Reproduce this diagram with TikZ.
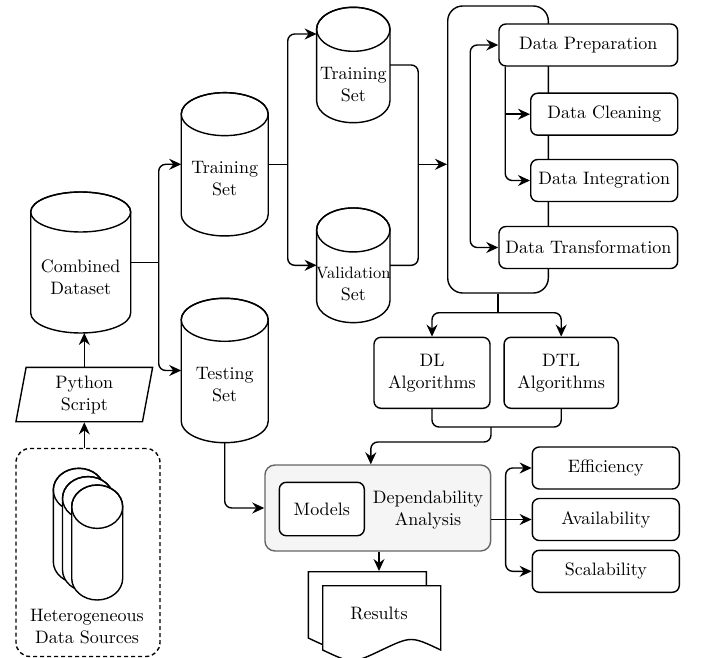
\documentclass[tikz,border=0pt]{standalone}
\usepackage{fontspec}
\setmainfont{lmroman10-regular.otf}
\usetikzlibrary{shapes,arrows.meta,positioning,calc}

\begin{document}
\begin{tikzpicture}[
    x=1pt, y=-1pt,
    font=\fontsize{18}{22}\selectfont,
    line width=1.4pt,
    >={Stealth[length=12pt,width=11pt,inset=4pt]},
    % vertical drum: x radius / y radius of the end ellipses
    cyl/.style args={#1/#2}{inner sep=0pt, outer sep=0pt, minimum width={2*#1pt}, append after command={\pgfextra{
        \draw[fill=white] ($(\tikzlastnode.north west)+(0,#2)$) -- ($(\tikzlastnode.south west)+(0,-#2)$)
            arc[start angle=180, end angle=360, x radius=#1pt, y radius=#2pt]
            -- ($(\tikzlastnode.north east)+(0,#2)$)
            arc[start angle=0, end angle=180, x radius=#1pt, y radius=#2pt];
        \draw ($(\tikzlastnode.north)+(0,#2)$) ellipse[x radius=#1pt, y radius=#2pt];}}},
    cyltext/.style={align=center, inner sep=0pt, yshift=-14.5pt},
    process/.style={rectangle, draw, fill=white, rounded corners=7pt, align=center, minimum height=42pt},
    arrow/.style={->, rounded corners=7pt},
    link/.style={-, rounded corners=7pt}
]
\useasboundingbox (0,0) rectangle (702,658);

% Sources and script
\node[draw, dash pattern=on 4pt off 3pt, rounded corners=14pt, minimum width=144pt, minimum height=208pt] (sources) at (88,552.5) {};
\foreach \i/\x/\y in {1/78.8/525.8, 2/88/534.1, 3/97.2/542.5}
    \node[cyl=25.5/21.7, minimum height=115pt] (src\i) at (\x,\y) {};
\node[align=center] (srctext) at (87,627) {Heterogeneous\\Data Sources};
\node[trapezium, trapezium left angle=75, trapezium right angle=105, trapezium stretches body, draw, fill=white, minimum width=136.7pt, minimum height=54.4pt, align=center, inner sep=0pt] (python) at (84.3,394.5) {Python\\Script};

% Datasets
\node[cyl=50/20, minimum height=141pt, label={[cyltext]center:{Combined\\Dataset}}] (combined) at (80.7,262.5) {};
\node[cyl=43.5/21.5, minimum height=143.3pt, label={[cyltext]center:{Training\\Set}}] (train) at (224.7,164.3) {};
\node[cyl=43.5/21.5, minimum height=144.4pt, label={[cyltext]center:{Testing\\Set}}] (test) at (224.7,370.5) {};
\node[cyl=36.7/22, minimum height=115.4pt, label={[cyltext, yshift=-5.5pt]center:{Training\\Set}}] (trainsub) at (353.3,65) {};
\node[cyl=36.7/22, minimum height=114.7pt, label={[cyltext, yshift=-4pt]center:{{\fontsize{16.5}{20}\selectfont Validation}\\Set}}] (valid) at (353.3,265.3) {};

% Data preparation block
\node[draw, rounded corners=15pt, minimum width=100.6pt, minimum height=287pt] (prep) at (498,149.5) {};
\node[process, minimum width=178.7pt] (dprep) at (588.3,45) {Data Preparation};
\node[process, minimum width=147pt] (dclean) at (604.2,114.2) {Data Cleaning};
\node[process, minimum width=147pt] (dinteg) at (604.2,180.5) {Data Integration};
\node[process, minimum width=178.7pt] (dtrans) at (588.3,247.5) {Data Transformation};

% Algorithms
\node[process, minimum width=116pt, minimum height=71pt] (dl) at (432,372.8) {DL\\Algorithms};
\node[process, minimum width=114.3pt, minimum height=71pt] (dtl) at (561.2,372.8) {DTL\\Algorithms};

% Analysis
\node[draw=black!60, fill=black!4, rounded corners=10pt, minimum width=225.7pt, minimum height=86pt] (dep) at (377.8,508) {};
\node[process, minimum width=85pt, minimum height=53.4pt] (models) at (321.8,509) {Models};
\node[align=center] (deptext) at (428,510.5) {Dependability\\Analysis};
\node[process, minimum width=147pt] (eff) at (605.8,468) {Efficiency};
\node[process, minimum width=147pt] (avail) at (605.8,519.5) {Availability};
\node[process, minimum width=147pt] (scal) at (605.8,571.3) {Scalability};

% Results (stacked documents)
\draw[fill=white] (308.3,571.7) -- (426.3,571.7) -- (426.3,638) .. controls (396.8,624) .. (367.3,638) .. controls (337.8,652) .. (308.3,638) -- cycle;
\draw[fill=white] (322.7,585.7) -- (440.7,585.7) -- (440.7,650) .. controls (411.2,636) .. (381.7,650) .. controls (352.2,664) .. (322.7,650) -- cycle;
\node[minimum width=118pt, minimum height=82.6pt] (results) at (379,613) {Results};

% Connections
\draw[->] (sources.north -| python.south) -- (python.south);
\draw[->] (python.north) -- (python.north |- combined.south);

\coordinate (fork1) at ($(combined.east)+(28,0)$);
\draw (combined.east) -- (fork1);
\draw[arrow] (fork1) |- (train.west);
\draw[arrow] (fork1) |- (test.west);

\coordinate (fork2) at ($(train.east)+(19.5,0)$);
\draw (train.east) -- (fork2);
\draw[arrow] (fork2) |- ($(trainsub.west)+(0,-31)$);
\draw[arrow] (fork2) |- (valid.west);

\coordinate (join1) at ($(train.east)+(150,0)$);
\draw[link] (trainsub.east) -| (join1) |- (valid.east);
\draw[->] (join1) -- (join1 -| prep.west);

\coordinate (inner) at ($(dprep.west)+(-28,100)$);
\draw[arrow] (inner) |- (dprep.west);
\draw[arrow] (inner) |- (dtrans.west);

\coordinate (tap) at ($(dprep.south west)+(7,0)$);
\draw[arrow] (tap) |- (dinteg.west);
\draw[->] (tap |- dclean.west) -- (dclean.west);

\coordinate (fork3) at ($(prep.south)+(0,19)$);
\draw (prep.south) -- (fork3);
\draw[arrow] (fork3) -| (dl.north);
\draw[arrow] (fork3) -| (dtl.north);

\coordinate (join3) at ($(dl.south)+(59,18)$);
\draw[link] (dl.south) |- (join3) -| (dtl.south);
\draw[arrow] (join3) -- ++(0,15) -| ([xshift=-7pt]dep.north);

\draw[arrow] (test.south) |- (dep.west);

\coordinate (fork4) at ($(dep.east |- avail.west)+(14.3,0)$);
\draw[->] (dep.east |- avail.west) -- (avail.west);
\draw[arrow] (fork4) |- (eff.west);
\draw[arrow] (fork4) |- (scal.west);

\draw[->] (results.north |- dep.south) -- (results.north);

\end{tikzpicture}
\end{document}
